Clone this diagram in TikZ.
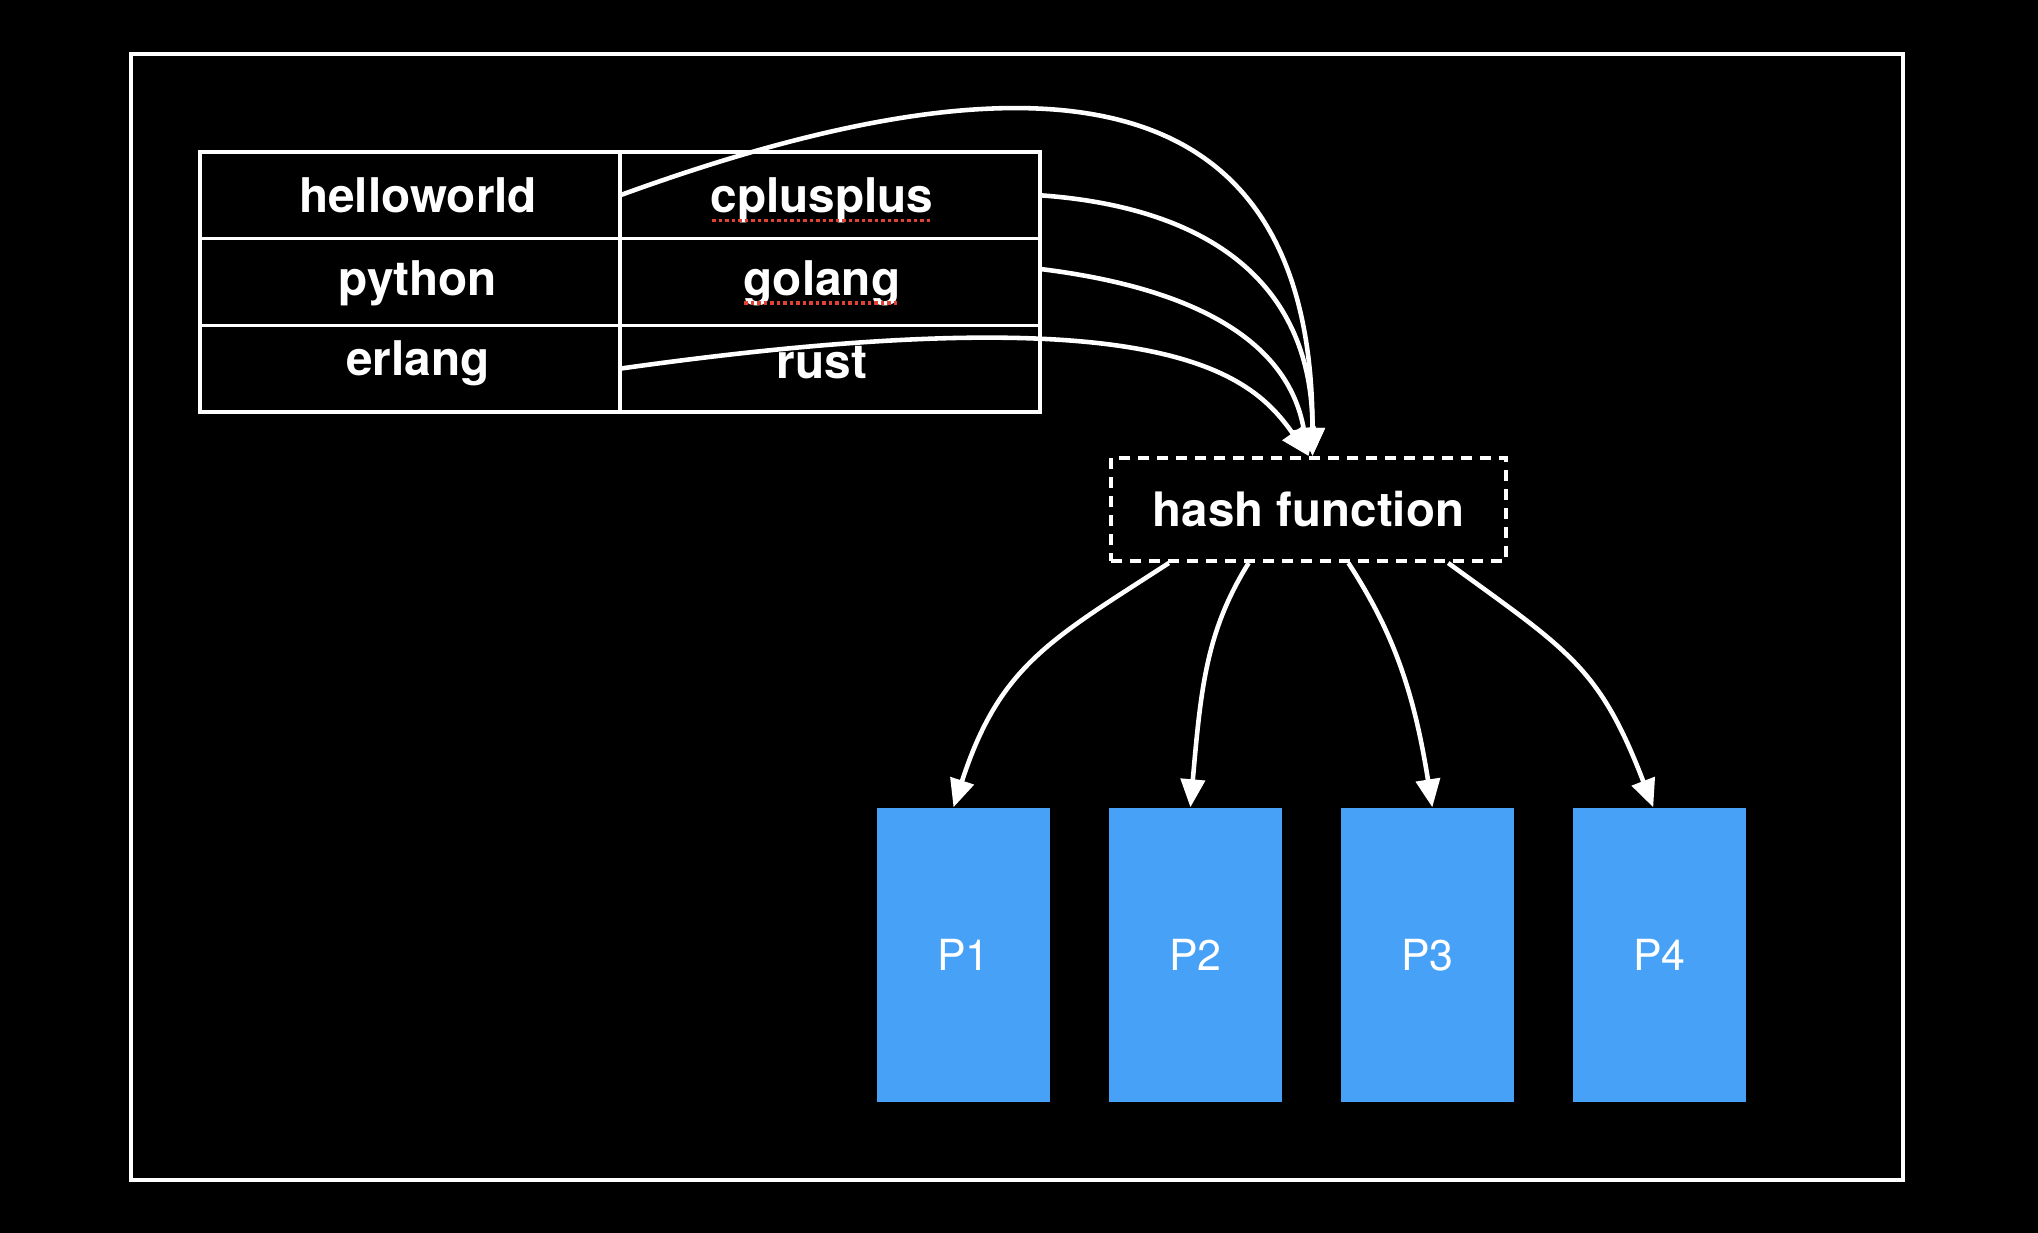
\documentclass[tikz,border=0pt]{standalone}
\usepackage{fontspec}
\setmainfont{TeX Gyre Heros}
\usetikzlibrary{positioning, arrows.meta, calc}
\definecolor{partblue}{RGB}{71,162,247}
\definecolor{spellred}{RGB}{226,66,52}

\begin{document}
\begin{tikzpicture}[
    cell/.style={
        rectangle, draw=white, line width=0.95pt, outer sep=0pt, inner sep=0pt,
        minimum width=4.2cm, minimum height=0.8667cm,
        text height=0.75em, text depth=0pt,
        font=\fontsize{13.6}{16}\selectfont\bfseries, text=white
    },
    lcell/.style={cell, execute at begin node=\hspace*{0.16cm}},
    rcell/.style={cell, execute at end node=\hspace*{0.16cm}},
    hashbox/.style={
        rectangle, draw=white, line width=1.15pt,
        dash pattern=on 0.11cm off 0.08cm,
        minimum width=3.95cm, minimum height=1.03cm,
        font=\fontsize{13.5}{16}\selectfont\bfseries, text=white
    },
    part/.style={
        rectangle, fill=partblue,
        minimum width=1.73cm, minimum height=2.94cm,
        font=\fontsize{12.2}{14}\selectfont, text=white
    },
    flow/.style={
        -{Triangle[length=0.28cm, width=0.24cm]},
        line width=1.3pt, color=white
    },
    spell/.style={
        draw=spellred, line width=0.035cm,
        dash pattern=on 0.035cm off 0.03cm
    }
]

% --- background and frame ---
\fill[black] (0,0) rectangle (20.38,-12.33);
\draw[white, line width=1.05pt] (1.31,-0.54) rectangle (19.03,-11.80);

% --- key table ---
\node[lcell, text height=0.98em] (hello) at (4.10,-1.953) {helloworld};
\node[rcell, text height=0.98em, right=0pt of hello] (cpp) {cplusplus};
\node[lcell, below=0pt of hello] (py) {python};
\node[rcell, right=0pt of py] (go) {golang};
\node[lcell, text height=0.38em, below=0pt of py] (erl) {erlang};
\node[rcell, text height=0.58em, right=0pt of erl] (rust) {rust};

% spell-check marks
\draw[spell] ([xshift=-1.18cm, yshift=-0.25cm]cpp.center) -- ++(2.19,0);
\draw[spell] ([xshift=-0.86cm, yshift=-0.21cm]go.center) -- ++(1.56,0);

% --- hash function ---
\node[hashbox] (hash) at (13.085,-5.095) {hash function};

% --- partitions ---
\node[part] (p1) at (9.635,-9.55) {P1};
\node[part, right=0.575cm of p1] (p2) {P2};
\node[part, right=0.575cm of p2] (p3) {P3};
\node[part, right=0.575cm of p3] (p4) {P4};

% --- keys -> hash function ---
\draw[flow] (hello.east) to[out=20, in=90, out distance=5cm, in distance=3.5cm] ([xshift=0.04cm]hash.north);
\draw[flow] (cpp.east) to[out=-4, in=90, out distance=1.6cm, in distance=1.8cm] ([xshift=0.04cm]hash.north);
\draw[flow] ([yshift=0.13cm]go.east) to[out=-7, in=100, out distance=1.5cm, in distance=1.2cm] (hash.north);
\draw[flow] (erl.east) to[out=8, in=125, out distance=5.5cm, in distance=1cm] (hash.north);

% --- hash function -> partitions ---
\draw[flow] ($(hash.south west)!0.15!(hash.south east)$) to[out=213, in=72, out distance=1.4cm, in distance=1.5cm] ([xshift=-0.1cm]p1.north);
\draw[flow] ($(hash.south west)!0.35!(hash.south east)$) to[out=238, in=85, out distance=0.8cm, in distance=1.2cm] ([xshift=-0.05cm]p2.north);
\draw[flow] ($(hash.south west)!0.6!(hash.south east)$) to[out=-57, in=99, out distance=0.8cm, in distance=1.2cm] ([xshift=0.05cm]p3.north);
\draw[flow] ($(hash.south west)!0.85!(hash.south east)$) to[out=-36, in=111, out distance=1.5cm, in distance=1.5cm] ([xshift=-0.06cm]p4.north);

\end{tikzpicture}
\end{document}
